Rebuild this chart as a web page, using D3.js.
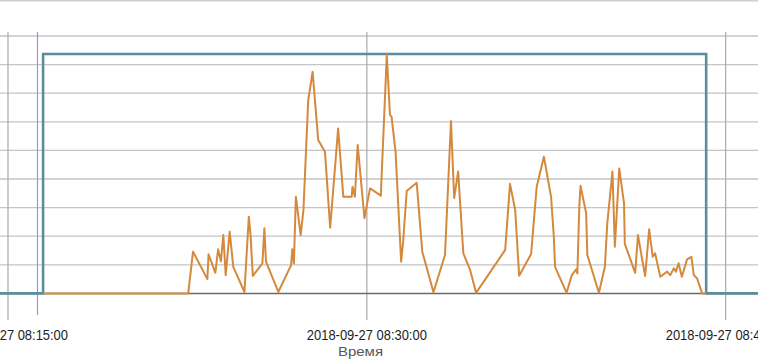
<!DOCTYPE html>
<html>
<head>
<meta charset="utf-8">
<script src="https://cdn.jsdelivr.net/npm/d3@7"></script>
<style>
  html, body { margin: 0; padding: 0; background: #ffffff; overflow: hidden; }
  svg { display: block; }
</style>
</head>
<body>
<svg id="chart" width="758" height="361"></svg>
<script>
// ---------- DATA ----------
const seriesDate = "2018-09-27";

// Orange series (measured value)
const orangeTimes = [
  "08:16:28","08:22:32","08:22:44","08:23:20","08:23:23","08:23:40","08:23:47","08:23:54",
  "08:24:00","08:24:06","08:24:16","08:24:25","08:24:53","08:25:04","08:25:08","08:25:14",
  "08:25:38","08:25:43","08:25:47","08:26:18","08:26:50","08:26:53","08:26:57","08:27:02",
  "08:27:14","08:27:21","08:27:33","08:27:44","08:27:58","08:28:15","08:28:28","08:28:48",
  "08:29:01","08:29:22","08:29:24","08:29:30","08:29:37","08:29:54","08:30:08","08:30:35",
  "08:30:50","08:30:58","08:31:02","08:31:12","08:31:26","08:31:31","08:31:40","08:32:05",
  "08:32:19","08:32:47","08:33:16","08:33:31","08:33:39","08:33:49","08:34:02","08:34:19",
  "08:34:34","08:35:47","08:35:59","08:36:12","08:36:22","08:36:52","08:37:06","08:37:24",
  "08:37:42","08:37:49","08:37:52","08:38:21","08:38:34","08:38:45","08:38:48","08:38:53",
  "08:38:56","08:39:10","08:39:13","08:39:42","08:39:57","08:40:03","08:40:16","08:40:22",
  "08:40:33","08:40:45","08:40:47","08:41:13","08:41:20","08:41:30","08:41:38","08:41:48",
  "08:41:57","08:42:03","08:42:16","08:42:33","08:42:41","08:42:50","08:42:55","08:43:02",
  "08:43:10","08:43:23","08:43:34","08:43:40","08:43:48","08:44:01","08:44:11"
];
const orangeValues = [
  0, 0, 1.46, 0.50, 1.37, 0.72, 1.54, 1.12,
  2.04, 0.64, 2.16, 0.93, 0.05, 2.68, 2.10, 0.61,
  1.05, 2.28, 1.11, 0.05, 0.99, 1.54, 1.05, 3.38,
  2.04, 2.92, 6.76, 7.75, 5.36, 4.95, 2.30, 5.77,
  3.38, 3.38, 3.73, 3.38, 5.19, 2.63, 3.67, 3.42,
  8.34, 6.24, 6.18, 4.95, 1.11, 1.81, 3.58, 3.87,
  1.46, 0.04, 1.34, 6.03, 3.33, 4.26, 1.40, 0.82,
  0.02, 1.52, 3.83, 2.92, 0.62, 1.38, 3.73, 4.78,
  3.38, 1.98, 0.93, 0.02, 0.64, 0.84, 0.70, 3.09,
  3.76, 2.80, 1.34, 0.02, 0.93, 2.45, 4.26, 1.63,
  4.37, 3.15, 1.73, 0.72, 2.04, 1.23, 0.61, 2.24,
  1.28, 1.40, 0.58, 0.76, 0.64, 0.88, 0.76, 1.05,
  0.58, 1.19, 1.28, 0.64, 0.53, 0, 0
];

// Teal series (set level)
const tealTimes  = ["08:13:00","08:16:28","08:16:28","08:44:11","08:44:11","08:48:00"];
const tealValues = [0, 0, 8.37, 8.37, 0, 0];

// Marker (purple vertical line)
const markerTime = "08:16:14";

// Axis ticks
const xTickTimes  = ["08:15:00","08:30:00","08:45:00"];
const xTickLabels = ["2018-09-27 08:15:00","2018-09-27 08:30:00","2018-09-27 08:45:00"];
const yTickValues = [0,1,2,3,4,5,6,7,8,9];
const xAxisTitle = "Время";

// ---------- CHART ----------
const parse = d3.timeParse("%Y-%m-%d %H:%M:%S");
const T = s => parse(seriesDate + " " + s);

const W = 758, H = 361;
const svg = d3.select("#chart");

const x = d3.scaleTime()
  .domain([T("08:15:00"), T("08:45:00")])
  .range([8, 725.7]);
const y = d3.scaleLinear()
  .domain([0, 9])
  .range([293.4, 36]);

svg.append("defs").append("clipPath").attr("id", "clip")
  .append("rect").attr("x", 0).attr("y", 0).attr("width", W).attr("height", H);

const g = svg.append("g").attr("clip-path", "url(#clip)");

// top border
g.append("line")
  .attr("x1", 0).attr("x2", W).attr("y1", 0.8).attr("y2", 0.8)
  .attr("stroke", "#cfcfcf").attr("stroke-width", 1.5);

// horizontal gridlines
g.append("g").selectAll("line")
  .data(yTickValues.filter(v => v > 0))
  .join("line")
  .attr("x1", 0).attr("x2", W)
  .attr("y1", d => y(d)).attr("y2", d => y(d))
  .attr("stroke", "#c4c4c4").attr("stroke-width", 1.3);

// vertical gridlines / ticks
g.append("g").selectAll("line")
  .data(xTickTimes)
  .join("line")
  .attr("x1", d => x(T(d))).attr("x2", d => x(T(d)))
  .attr("y1", 32).attr("y2", 320)
  .attr("stroke", "#a9a9a9").attr("stroke-width", 1.2);

// baseline axis
g.append("line")
  .attr("x1", 0).attr("x2", W).attr("y1", y(0)).attr("y2", y(0))
  .attr("stroke", "#6a6a6a").attr("stroke-width", 1.5);

// marker
g.append("line")
  .attr("x1", x(T(markerTime))).attr("x2", x(T(markerTime)))
  .attr("y1", 32).attr("y2", 315)
  .attr("stroke", "#9b8fe6").attr("stroke-width", 1.2);

const line = d3.line().x(d => x(d.t)).y(d => y(d.v));

const teal = tealTimes.map((t, i) => ({ t: T(t), v: tealValues[i] }));
const orange = orangeTimes.map((t, i) => ({ t: T(t), v: orangeValues[i] }));

g.append("path").datum(teal)
  .attr("d", line).attr("fill", "none")
  .attr("stroke", "#5b8e9c").attr("stroke-width", 2.6)
  .attr("stroke-linejoin", "miter");

g.append("path").datum(orange)
  .attr("d", line).attr("fill", "none")
  .attr("stroke", "#d4893d").attr("stroke-width", 2)
  .attr("stroke-linejoin", "round");

// tick labels
g.append("g").selectAll("text")
  .data(xTickTimes)
  .join("text")
  .attr("x", d => x(T(d))).attr("y", 340)
  .attr("text-anchor", "middle")
  .attr("font-family", "'Liberation Sans', Arial, sans-serif")
  .attr("font-size", 14.5)
  .attr("textLength", 120).attr("lengthAdjust", "spacingAndGlyphs")
  .attr("fill", "#1e1e1e")
  .text((d, i) => xTickLabels[i]);

// axis title
g.append("text")
  .attr("x", 360.5).attr("y", 356)
  .attr("text-anchor", "middle")
  .attr("font-family", "'Liberation Sans', Arial, sans-serif")
  .attr("font-size", 12.5)
  .attr("textLength", 45).attr("lengthAdjust", "spacingAndGlyphs")
  .attr("fill", "#555555")
  .text(xAxisTitle);
</script>
</body>
</html>
